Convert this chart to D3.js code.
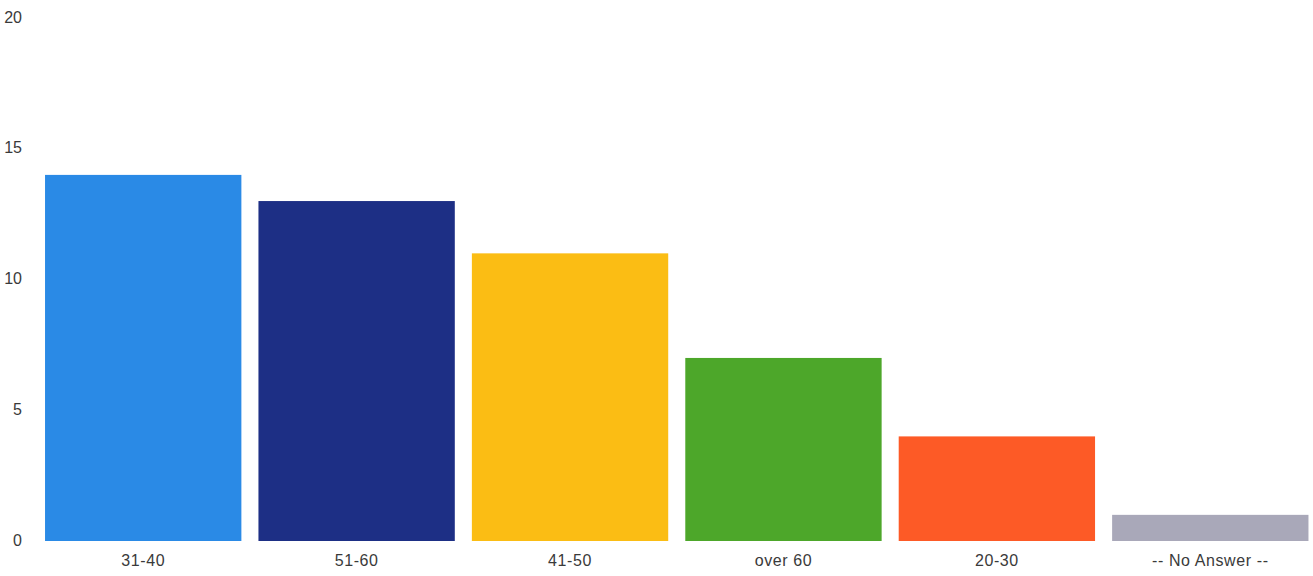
<!DOCTYPE html>
<html>
<head>
<meta charset="utf-8">
<script src="https://cdn.jsdelivr.net/npm/d3@7"></script>
<style>
  html, body { margin: 0; padding: 0; background: #fff; }
  svg { display: block; }
  text { font-family: "Liberation Sans", Arial, sans-serif; fill: #3a3a3a; }
</style>
</head>
<body>
<svg id="chart" width="1313" height="576"></svg>
<script>
// Respondents by age group
const categories = ["31-40", "51-60", "41-50", "over 60", "20-30", "-- No Answer --"];
const counts = [14, 13, 11, 7, 4, 1];
const barColors = ["#2a8ae6", "#1d2f85", "#fbbd14", "#4da72a", "#fd5a26", "#a9a8b9"];
const yTicks = [0, 5, 10, 15, 20];

const svg = d3.select("#chart");

const x = d3.scaleBand()
  .domain(categories)
  .range([36.5, 1317])
  .paddingInner(0.08)
  .paddingOuter(0.04);

const y = d3.scaleLinear()
  .domain([0, 20])
  .range([541, 18]);

// value axis labels
const yAxis = d3.axisLeft(y)
  .tickValues(yTicks)
  .tickSize(0)
  .tickPadding(0);
const gy = svg.append("g")
  .attr("transform", "translate(22,-1)")
  .call(yAxis);
gy.select(".domain").remove();
gy.selectAll("text")
  .attr("font-size", 16)
  .attr("fill", "#3a3a3a")
  .attr("font-family", "'Liberation Sans', Arial, sans-serif");

// bars
svg.append("g")
  .selectAll("rect")
  .data(categories)
  .join("rect")
  .attr("x", d => x(d))
  .attr("width", x.bandwidth())
  .attr("y", (d, i) => y(counts[i]))
  .attr("height", (d, i) => y(0) - y(counts[i]))
  .attr("fill", (d, i) => barColors[i]);

// category axis labels
const xAxis = d3.axisBottom(x).tickSize(0).tickPadding(0);
const gx = svg.append("g")
  .attr("transform", "translate(0,555)")
  .call(xAxis);
gx.select(".domain").remove();
gx.selectAll("text")
  .attr("font-size", 16)
  .attr("letter-spacing", "0.6px")
  .attr("fill", "#3a3a3a")
  .attr("font-family", "'Liberation Sans', Arial, sans-serif");
</script>
</body>
</html>
